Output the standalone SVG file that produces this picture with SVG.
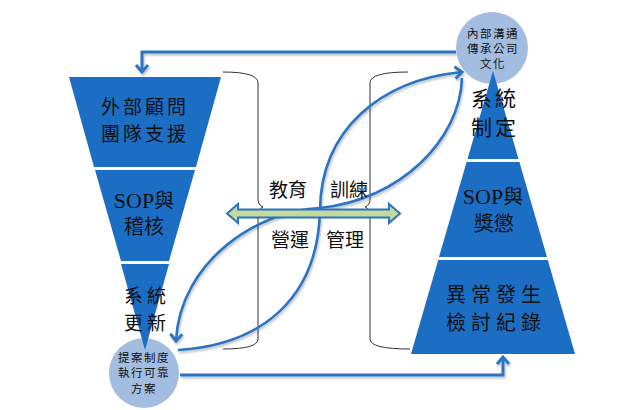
<svg xmlns="http://www.w3.org/2000/svg" width="637" height="410" viewBox="0 0 637 410">
<style>
.seg{fill:#1b6ec3}
.circ{fill:#a3bde0}
.t{font-family:"Noto Sans CJK TC","Noto Sans CJK SC",sans-serif;fill:#111;text-anchor:middle}
.s{font-family:"Liberation Serif","Noto Sans CJK TC",serif}
.big{font-size:20px}
.sm{font-size:11.5px;letter-spacing:1.5px}
.mid{font-size:19px}
.con{fill:none;stroke:#2b74c2;stroke-width:3}
.cur{fill:none;stroke:#2b74c2;stroke-width:2.6}
.br{fill:none;stroke:#333;stroke-width:1}
</style>
<defs>
<filter id="sh" x="-10%" y="-10%" width="120%" height="130%">
<feDropShadow dx="1" dy="2" stdDeviation="1" flood-color="#000" flood-opacity="0.25"/>
</filter>
<marker id="ah" markerUnits="userSpaceOnUse" markerWidth="16" markerHeight="16" refX="8" refY="8" orient="auto" overflow="visible">
<path d="M1,2 L8,8 L1,14" fill="none" stroke="#2b74c2" stroke-width="3" stroke-linejoin="miter"/>
</marker>
</defs>
<rect width="637" height="410" fill="#fff"/>

<g id="brackets">
<path class="br" d="M223,72 Q258,72 258,83 V199 Q258,205 263,207 Q258,209 258,215 V339 Q258,349 223,349"/>
<path class="br" d="M408,72 Q370,72 370,83 V199 Q370,205 365,207 Q370,209 370,215 V339 Q370,349 410,349"/>
</g>

<g id="connectors" filter="url(#sh)">
<path class="con" d="M456,52 H142 V72" marker-end="url(#ah)"/>
<path class="con" d="M180,375 H503 V357" marker-end="url(#ah)"/>
<path class="cur" d="M462,78 C460,140 400,200 320,208 C260,210 180,260 176,341" marker-end="url(#ah)"/>
<path class="cur" d="M178,350 C260,345 318,300 320,210 C321,130 380,80 462,72" marker-end="url(#ah)"/>
</g>

<g id="double-arrow">
<path d="M227,213.5 L238,204 L238,209.5 L389,209.5 L389,204 L400,213.5 L389,223 L389,217.5 L238,217.5 L238,223 Z" fill="#c5d99e" stroke="#2b74c2" stroke-width="2" stroke-linejoin="miter"/>
</g>

<g id="mid-labels">
<text class="t mid" x="288" y="197">教育</text>
<text class="t mid" x="349" y="197">訓練</text>
<text class="t mid" x="290" y="247">營運</text>
<text class="t mid" x="345" y="247">管理</text>
</g>

<g id="circle-bottom">
<circle class="circ" cx="144" cy="373" r="35"/>
<text class="t sm" x="144" y="362">提案制度</text>
<text class="t sm" x="144" y="377">執行可靠</text>
<text class="t sm" x="144" y="393">方案</text>
</g>

<g id="circle-top">
<circle class="circ" cx="492" cy="48" r="36"/>
<text class="t sm" x="493" y="38">內部溝通</text>
<text class="t sm" x="493" y="53">傳承公司</text>
<text class="t sm" x="493" y="68">文化</text>
</g>

<g id="funnel-1">
<polygon class="seg" points="69,77 221,77 196,167 94,167"/>
<text class="t" font-size="19" x="145" y="114" letter-spacing="3">外部顧問</text>
<text class="t" font-size="19" x="145" y="141" letter-spacing="3">團隊支援</text>
</g>
<g id="funnel-2">
<polygon class="seg" points="95,170 195,170 169,261 121,261"/>
<text class="t big" x="144" y="208"><tspan class="s" font-size="22">SOP</tspan>與</text>
<text class="t big" x="144" y="234">稽核</text>
</g>
<g id="funnel-3">
<polygon class="seg" points="121,264 169,264 145,350"/>
<text class="t" font-size="19" x="147" y="303" letter-spacing="4">系統</text>
<text class="t" font-size="19" x="147" y="330" letter-spacing="4">更新</text>
</g>

<g id="pyramid-1">
<polygon class="seg" points="493,71 518.5,159 467.5,159"/>
<text class="t" font-size="21" x="495" y="106" letter-spacing="3">系統</text>
<text class="t" font-size="21" x="495" y="135" letter-spacing="3">制定</text>
</g>
<g id="pyramid-2">
<polygon class="seg" points="466.6,162 519.4,162 547,257 439,257"/>
<text class="t big" x="493" y="204"><tspan class="s" font-size="22">SOP</tspan>與</text>
<text class="t big" x="494" y="231">獎懲</text>
</g>
<g id="pyramid-3">
<polygon class="seg" points="438.2,260 547.8,260 575,354 411,354"/>
<text class="t big" x="496" y="302" letter-spacing="5">異常發生</text>
<text class="t big" x="496" y="330" letter-spacing="5">檢討紀錄</text>
</g>
</svg>
